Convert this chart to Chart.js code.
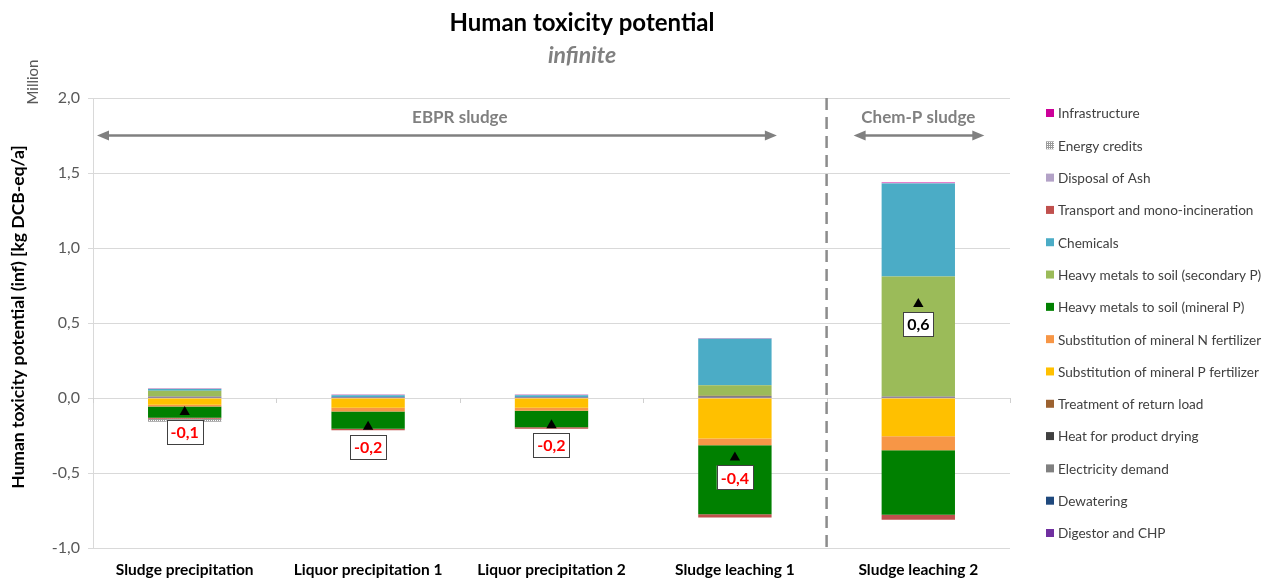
<!DOCTYPE html>
<html>
<head>
<meta charset="utf-8">
<title>Human toxicity potential</title>
<script src="https://cdn.jsdelivr.net/npm/chart.js@4/dist/chart.umd.min.js"></script>
<style>
  html, body { margin: 0; padding: 0; background: #ffffff; }
  #wrap { width: 1279px; height: 580px; position: relative; }
</style>
</head>
<body>
<div id="wrap"><canvas id="chart" width="1279" height="580"></canvas></div>
<script>
// Scenarios on the x axis
const categories = ["Sludge precipitation", "Liquor precipitation 1", "Liquor precipitation 2", "Sludge leaching 1", "Sludge leaching 2"];

// Contributions per process step, million kg DCB-eq/a (stacking order, bottom first)
const digestorCHP        = [0.001, 0.001, 0.001, 0.001, 0.001];
const dewatering         = [0.0005, 0.0005, 0.0005, 0.0005, 0.0005];
const electricityDemand  = [0.008, 0.004, 0.004, 0.012, 0.008];
const heatProductDrying  = [0.0005, 0.0005, 0.0005, 0.0005, 0.0005];
const returnLoad         = [0.0005, 0.0005, 0.0005, 0.0005, 0.0005];
const substitutionP      = [-0.045, -0.065, -0.065, -0.27, -0.255];
const substitutionN      = [-0.012, -0.025, -0.02, -0.045, -0.093];
const heavyMetalsMineral = [-0.075, -0.115, -0.11, -0.46, -0.43];
const heavyMetalsSecond  = [0.038, 0, 0, 0.07, 0.80];
const chemicals          = [0.012, 0.012, 0.012, 0.31, 0.62];
const transportIncin     = [-0.006, -0.01, -0.01, -0.022, -0.033];
const disposalAsh        = [0.003, 0.004, 0.004, 0.004, 0.003];
const energyCredits      = [-0.02, 0, 0, 0, 0];
const infrastructure     = [0.002, 0.001, 0.001, 0.002, 0.004];

// Y axis ticks
const yTicks = [-1.0, -0.5, 0.0, 0.5, 1.0, 1.5, 2.0];

// Hatched fill used for the energy credits
function makeHatch() {
  const c = document.createElement('canvas');
  c.width = 4; c.height = 4;
  const g = c.getContext('2d');
  g.fillStyle = '#ffffff';
  g.fillRect(0, 0, 4, 4);
  g.fillStyle = '#9a9a9a';
  g.fillRect(0, 0, 1, 4);
  g.fillRect(2, 0, 1, 4);
  g.fillRect(0, 1, 4, 1);
  g.fillRect(0, 3, 4, 1);
  return document.getElementById('chart').getContext('2d').createPattern(c, 'repeat');
}
const hatch = makeHatch();

const series = [
  { label: "Digestor and CHP", data: digestorCHP, color: "#7030A0" },
  { label: "Dewatering", data: dewatering, color: "#1F497D" },
  { label: "Electricity demand", data: electricityDemand, color: "#808080" },
  { label: "Heat for product drying", data: heatProductDrying, color: "#404040" },
  { label: "Treatment of return load", data: returnLoad, color: "#9C6230" },
  { label: "Substitution of mineral P fertilizer", data: substitutionP, color: "#FFC000" },
  { label: "Substitution of mineral N fertilizer", data: substitutionN, color: "#F79646" },
  { label: "Heavy metals to soil (mineral P)", data: heavyMetalsMineral, color: "#008000" },
  { label: "Heavy metals to soil (secondary P)", data: heavyMetalsSecond, color: "#9BBB59" },
  { label: "Chemicals", data: chemicals, color: "#4BACC6" },
  { label: "Transport and mono-incineration", data: transportIncin, color: "#C0504D" },
  { label: "Disposal of Ash", data: disposalAsh, color: "#B3A2C7" },
  { label: "Energy credits", data: energyCredits, color: hatch },
  { label: "Infrastructure", data: infrastructure, color: "#CC0099" }
];

// Net result per scenario = sum of all contributions
const netTotals = categories.map((_, i) => series.reduce((s, d) => s + d.data[i], 0));

const FONT = "Lato, 'Open Sans', sans-serif";

function fmt(v) {
  return v.toFixed(1).replace('.', ',');
}

const datasets = series.map(s => ({
  type: 'bar',
  label: s.label,
  data: s.data,
  backgroundColor: s.color,
  borderWidth: 0,
  stack: 'contrib',
  order: 1,
  categoryPercentage: 1.0,
  barPercentage: 0.4
}));

datasets.push({
  type: 'line',
  label: 'Net',
  data: netTotals,
  showLine: false,
  pointStyle: 'triangle',
  pointRadius: 6,
  pointBackgroundColor: '#000000',
  pointBorderColor: '#000000',
  pointBorderWidth: 0,
  stack: 'net',
  order: 0
});

// Titles, group markers, divider, net labels and legend
const decorations = {
  id: 'decorations',
  beforeDatasetsDraw(chart) {
    const { ctx, chartArea, scales } = chart;
    const x = scales.x, y = scales.y;
    // zero axis with tick marks between categories
    const y0 = y.getPixelForValue(0);
    ctx.save();
    ctx.strokeStyle = '#d0d0d0';
    ctx.lineWidth = 1;
    for (let i = 0; i <= categories.length; i++) {
      const px = Math.round(chartArea.left + i * (chartArea.width / categories.length)) + 0.5;
      ctx.beginPath();
      ctx.moveTo(px, y0);
      ctx.lineTo(px, y0 + 5);
      ctx.stroke();
    }
    // divider between EBPR and Chem-P scenarios
    const divX = (x.getPixelForValue(3) + x.getPixelForValue(4)) / 2;
    ctx.strokeStyle = '#8c8c8c';
    ctx.lineWidth = 2.5;
    ctx.setLineDash([12, 7]);
    ctx.beginPath();
    ctx.moveTo(divX, chartArea.top);
    ctx.lineTo(divX, chartArea.bottom);
    ctx.stroke();
    ctx.setLineDash([]);

    // group arrows
    const ay = y.getPixelForValue(1.75);
    function arrow(x1, x2) {
      ctx.strokeStyle = '#808080';
      ctx.fillStyle = '#808080';
      ctx.lineWidth = 2.5;
      ctx.beginPath();
      ctx.moveTo(x1 + 8, ay);
      ctx.lineTo(x2 - 8, ay);
      ctx.stroke();
      ctx.beginPath();
      ctx.moveTo(x1, ay); ctx.lineTo(x1 + 12, ay - 5); ctx.lineTo(x1 + 12, ay + 5); ctx.closePath();
      ctx.fill();
      ctx.beginPath();
      ctx.moveTo(x2, ay); ctx.lineTo(x2 - 12, ay - 5); ctx.lineTo(x2 - 12, ay + 5); ctx.closePath();
      ctx.fill();
    }
    const ebprL = chartArea.left + 4, ebprR = x.getPixelForValue(3) + 42;
    const chemL = divX + 27, chemR = x.getPixelForValue(4) + 66;
    arrow(ebprL, ebprR);
    arrow(chemL, chemR);
    ctx.fillStyle = '#808080';
    ctx.font = "bold 17px " + FONT;
    ctx.textAlign = 'center';
    ctx.textBaseline = 'middle';
    ctx.fillText('EBPR sludge', (x.getPixelForValue(0) + x.getPixelForValue(3)) / 2, ay - 18);
    ctx.fillText('Chem-P sludge', x.getPixelForValue(4), ay - 18);
    ctx.restore();
  },
  afterDatasetsDraw(chart) {
    const { ctx } = chart;
    const netMeta = chart.getDatasetMeta(chart.data.datasets.length - 1);
    ctx.save();
    ctx.font = "bold 16px " + FONT;
    ctx.textAlign = 'center';
    ctx.textBaseline = 'middle';
    netMeta.data.forEach((pt, i) => {
      const v = netTotals[i];
      const txt = fmt(v);
      const w = ctx.measureText(txt).width + 8;
      const h = 24;
      const cx = pt.x, cy = pt.y + 20;
      ctx.fillStyle = '#ffffff';
      ctx.fillRect(cx - w / 2, cy - h / 2, w, h);
      ctx.strokeStyle = '#404040';
      ctx.lineWidth = 1;
      ctx.strokeRect(Math.round(cx - w / 2) + 0.5, Math.round(cy - h / 2) + 0.5, Math.round(w), h);
      ctx.fillStyle = v < 0 ? '#FF0000' : '#000000';
      ctx.fillText(txt, cx, cy + 1);
    });
    ctx.restore();
  },
  afterDraw(chart) {
    const { ctx, chartArea } = chart;
    ctx.save();
    // main title and subtitle
    ctx.textAlign = 'center';
    ctx.textBaseline = 'middle';
    ctx.fillStyle = '#000000';
    ctx.font = "bold 24px " + FONT;
    ctx.fillText('Human toxicity potential', 582, 23);
    ctx.fillStyle = '#808080';
    ctx.font = "italic bold 23px " + FONT;
    ctx.fillText('infinite', 582, 56);

    // y axis title and unit
    ctx.save();
    ctx.translate(18, (chartArea.top + chartArea.bottom) / 2 - 6);
    ctx.rotate(-Math.PI / 2);
    ctx.fillStyle = '#000000';
    ctx.font = "bold 17.5px " + FONT;
    ctx.fillText('Human toxicity potential (inf) [kg DCB-eq/a]', 0, 0);
    ctx.restore();
    ctx.save();
    ctx.translate(33, 82);
    ctx.rotate(-Math.PI / 2);
    ctx.fillStyle = '#595959';
    ctx.font = "15px " + FONT;
    ctx.fillText('Million', 0, 0);
    ctx.restore();

    // legend, top entry = last stacked series
    const items = chart.data.datasets.filter(d => d.type === 'bar').slice().reverse();
    const lx = chartArea.right + 36;
    const top = chartArea.top + 15;
    const step = (chartArea.height - 30) / (items.length - 1);
    ctx.textAlign = 'left';
    ctx.font = "13.6px " + FONT;
    items.forEach((d, i) => {
      const cy = top + i * step;
      ctx.fillStyle = d.backgroundColor;
      ctx.fillRect(lx, cy - 4, 8, 8);
      ctx.fillStyle = '#404040';
      ctx.fillText(d.label, lx + 12, cy + 1);
    });
    ctx.restore();
  }
};

new Chart(document.getElementById('chart'), {
  data: { labels: categories, datasets },
  options: {
    responsive: false,
    animation: false,
    layout: { padding: { top: 98, right: 269, left: 0, bottom: 0 } },
    plugins: {
      legend: { display: false },
      tooltip: { enabled: false },
      title: { display: false }
    },
    scales: {
      x: {
        stacked: true,
        grid: { display: false, drawTicks: false, tickLength: 0 },
        border: { display: false },
        ticks: {
          autoSkip: false,
          maxRotation: 0,
          padding: 13,
          color: '#000000',
          font: { family: FONT, size: 15.5, weight: 'bold' }
        },
        afterFit(scale) { scale.height = 32; }
      },
      y: {
        stacked: true,
        min: -1,
        max: 2,
        afterBuildTicks(scale) { scale.ticks = yTicks.map(v => ({ value: v })); },
        grid: { color: '#d9d9d9', tickLength: 5, lineWidth: 1 },
        border: { color: '#d9d9d9' },
        ticks: {
          padding: 8,
          color: '#595959',
          font: { family: FONT, size: 16 },
          callback: v => fmt(v)
        },
        afterFit(scale) { scale.width = 93; }
      }
    }
  },
  plugins: [decorations]
});
</script>
</body>
</html>
